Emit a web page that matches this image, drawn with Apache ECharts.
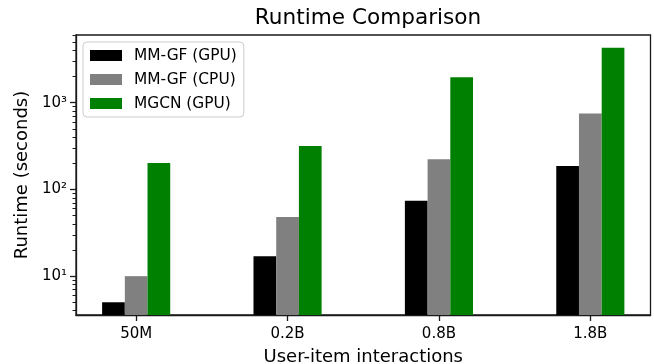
<!DOCTYPE html>
<html>
<head>
<meta charset="utf-8">
<script src="https://cdn.jsdelivr.net/npm/echarts@6/dist/echarts.min.js"></script>
<style>
html,body{margin:0;padding:0;background:#fff;}
#main{width:654px;height:364px;}
</style>
</head>
<body>
<div id="main"></div>
<script>
const categories = ['50M', '0.2B', '0.8B', '1.8B'];
const seriesNames = ['MM-GF (GPU)', 'MM-GF (CPU)', 'MGCN (GPU)'];
const mmgfGpu = [5, 17, 74, 186];
const mmgfCpu = [10, 48, 222, 752];
const mgcnGpu = [201, 316, 1960, 4300];
const yMajorTicks = [10, 100, 1000];
const yMinorTicks = [4, 5, 6, 7, 8, 9, 20, 30, 40, 50, 60, 70, 80, 90,
  200, 300, 400, 500, 600, 700, 800, 900, 2000, 3000, 4000, 5000, 6000];

const colors = ['#000000', '#808080', '#008000'];
const allVals = mmgfGpu.concat(mmgfCpu, mgcnGpu);
const lmin = Math.log10(Math.min.apply(null, allVals));
const lmax = Math.log10(Math.max.apply(null, allVals));
const lspan = lmax - lmin;
const yMin = Math.pow(10, lmin - 0.05 * lspan);
const yMax = Math.pow(10, lmax + 0.05 * lspan);
const barW = 0.15;
const xSpan = (categories.length - 1) + 3 * barW;
const xMin = -1.5 * barW - 0.05 * xSpan;
const xMax = (categories.length - 1) + 1.5 * barW + 0.05 * xSpan;
const sup = {1: '\u00b9', 2: '\u00b2', 3: '\u00b3'};
const font = 'DejaVu Sans';
const frame = '#1a1a1a';

const chart = echarts.init(document.getElementById('main'), null, {renderer: 'canvas'});
const dataSets = [mmgfGpu, mmgfCpu, mgcnGpu];

chart.setOption({
  animation: false,
  backgroundColor: '#ffffff',
  title: {
    text: 'Runtime Comparison',
    left: 363, top: 2, textAlign: 'center',
    textStyle: {fontFamily: font, fontSize: 21.6, fontWeight: 'normal', color: '#000'}
  },
  grid: {
    left: 76, right: 3.5, top: 35, bottom: 49,
    show: true, borderColor: frame, borderWidth: 1.3, backgroundColor: 'transparent',
    containLabel: false, outerBoundsMode: 'none'
  },
  legend: {
    orient: 'vertical', left: 83, top: 42,
    data: seriesNames,
    icon: 'rect', itemWidth: 32, itemHeight: 11, itemGap: 9,
    padding: [6, 7, 6, 7],
    backgroundColor: 'rgba(255,255,255,0.8)',
    borderColor: '#cccccc', borderWidth: 1, borderRadius: 4,
    textStyle: {fontFamily: font, fontSize: 15.4, color: '#000', padding: [0, 0, 0, 7]}
  },
  xAxis: {
    type: 'value', min: xMin, max: xMax,
    name: 'User-item interactions', nameLocation: 'middle', nameGap: 33,
    nameTextStyle: {fontFamily: font, fontSize: 18, color: '#000'},
    splitLine: {show: false},
    axisLine: {show: true, onZero: false, lineStyle: {color: frame, width: 1.3}},
    axisTick: {show: true, customValues: categories.map((c, i) => i), length: 6, lineStyle: {color: frame, width: 1.3}},
    axisLabel: {
      customValues: categories.map((c, i) => i),
      formatter: v => categories[Math.round(v)],
      fontFamily: font, fontSize: 15, color: '#000', margin: 12
    }
  },
  yAxis: [{
    type: 'log', logBase: 10, min: yMin, max: yMax,
    name: 'Runtime (seconds)', nameLocation: 'middle', nameGap: 44,
    nameTextStyle: {fontFamily: font, fontSize: 18, color: '#000'},
    splitLine: {show: false},
    axisLine: {show: true, onZero: false, lineStyle: {color: frame, width: 1.3}},
    axisTick: {show: true, customValues: yMajorTicks, length: 6, lineStyle: {color: frame, width: 1.3}},
    axisLabel: {
      customValues: yMajorTicks,
      formatter: v => '10' + sup[Math.round(Math.log10(v))],
      fontFamily: font, fontSize: 15, color: '#000', margin: 9
    }
  }, {
    type: 'log', logBase: 10, min: yMin, max: yMax, position: 'left', offset: 0,
    splitLine: {show: false},
    axisLine: {show: false, onZero: false},
    axisTick: {show: true, customValues: yMinorTicks, length: 3.5, lineStyle: {color: frame, width: 1}},
    axisLabel: {show: false}
  }],
  series: dataSets.map((vals, k) => ({
    name: seriesNames[k],
    type: 'bar',
    yAxisIndex: 0,
    barWidth: '15%',
    barGap: '0%',
    clip: true,
    itemStyle: {color: colors[k]},
    data: vals.map((v, i) => [i, v])
  }))
});
</script>
</body>
</html>
